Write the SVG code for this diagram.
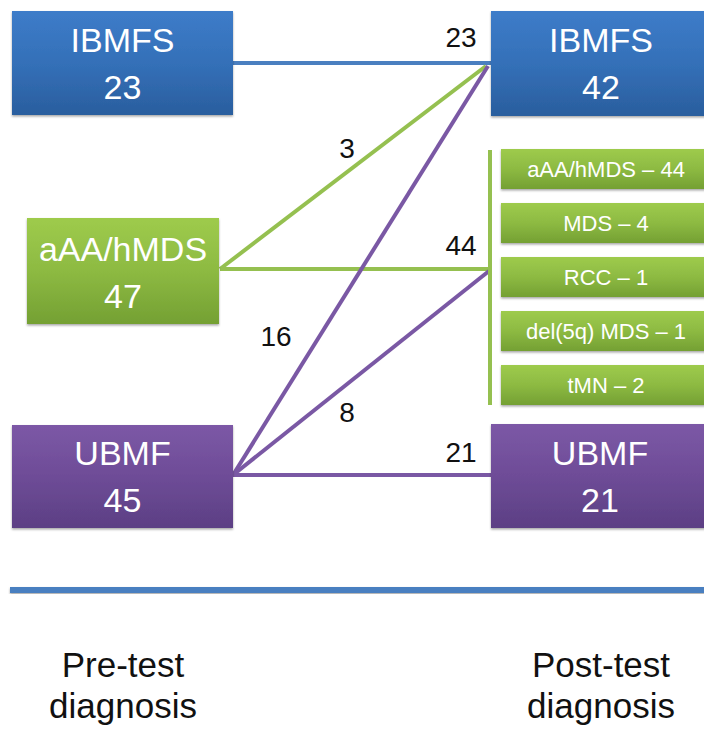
<svg xmlns="http://www.w3.org/2000/svg" width="704" height="730" viewBox="0 0 704 730">
<defs>
<linearGradient id="gBlue" x1="0" y1="0" x2="0" y2="1">
<stop offset="0" stop-color="#3d7cc9"/><stop offset="0.5" stop-color="#3470b8"/><stop offset="1" stop-color="#2a5e9e"/>
</linearGradient>
<linearGradient id="gGreen" x1="0" y1="0" x2="0" y2="1">
<stop offset="0" stop-color="#9ecb4c"/><stop offset="0.5" stop-color="#8dba42"/><stop offset="1" stop-color="#74a033"/>
</linearGradient>
<linearGradient id="gPurple" x1="0" y1="0" x2="0" y2="1">
<stop offset="0" stop-color="#7c58a6"/><stop offset="0.5" stop-color="#6e4c97"/><stop offset="1" stop-color="#5c3f84"/>
</linearGradient>
<filter id="sh" x="-5%" y="-5%" width="110%" height="115%">
<feDropShadow dx="0" dy="1.5" stdDeviation="1" flood-color="#000" flood-opacity="0.35"/>
</filter>
</defs>
<style>
.big{font-family:"Liberation Sans","Open Sans",sans-serif;font-size:34px;fill:#fff;text-anchor:middle}
.small{font-family:"Liberation Sans","Open Sans",sans-serif;font-size:22px;fill:#fff;text-anchor:middle}
.lbl{font-family:"Liberation Sans","Open Sans",sans-serif;font-size:28px;fill:#111;text-anchor:middle}
.foot{font-family:"Liberation Sans","Open Sans",sans-serif;font-size:35px;fill:#111;text-anchor:middle}
.blue{fill:url(#gBlue);filter:url(#sh)}
.green{fill:url(#gGreen);filter:url(#sh)}
.purple{fill:url(#gPurple);filter:url(#sh)}
.lb{stroke:#4a7fc0;stroke-width:4;fill:none}
.lg{stroke:#95c050;stroke-width:4;fill:none}
.lp{stroke:#7a58a4;stroke-width:4;fill:none}
</style>
<rect width="704" height="730" fill="#fff"/>
<g id="connectors">
<line class="lb" x1="233" y1="63" x2="491" y2="63"/>
<line class="lg" x1="220" y1="269" x2="486" y2="66"/>
<line class="lg" x1="220" y1="269" x2="490" y2="269"/>
<line class="lp" x1="233" y1="475" x2="488" y2="66"/>
<line class="lp" x1="233" y1="475" x2="489" y2="271"/>
<line class="lp" x1="233" y1="475" x2="491" y2="475"/>
<line class="lg" x1="490" y1="150" x2="490" y2="405"/>
<text class="lbl" x="461" y="47">23</text>
<text class="lbl" x="347" y="158">3</text>
<text class="lbl" x="461" y="255">44</text>
<text class="lbl" x="276" y="346">16</text>
<text class="lbl" x="347" y="422">8</text>
<text class="lbl" x="461" y="462">21</text>
</g>
<g id="pre-ibmfs">
<rect class="blue" x="12" y="11" width="221" height="104"/>
<text class="big" x="122.5" y="52">IBMFS</text>
<text class="big" x="122.5" y="99">23</text>
</g>
<g id="pre-aaa">
<rect class="green" x="27" y="218" width="192" height="106"/>
<text class="big" x="123" y="261">aAA/hMDS</text>
<text class="big" x="123" y="308">47</text>
</g>
<g id="pre-ubmf">
<rect class="purple" x="12" y="425" width="221" height="103"/>
<text class="big" x="122.5" y="465">UBMF</text>
<text class="big" x="122.5" y="512">45</text>
</g>
<g id="post-ibmfs">
<rect class="blue" x="491" y="11" width="220" height="105"/>
<text class="big" x="601" y="52">IBMFS</text>
<text class="big" x="601" y="99">42</text>
</g>
<g id="post-aaa">
<rect class="green" x="501" y="149" width="210" height="40"/>
<text class="small" x="606" y="177">aAA/hMDS – 44</text>
</g>
<g id="post-mds">
<rect class="green" x="501" y="203" width="210" height="40"/>
<text class="small" x="606" y="231">MDS – 4</text>
</g>
<g id="post-rcc">
<rect class="green" x="501" y="257" width="210" height="40"/>
<text class="small" x="606" y="285">RCC – 1</text>
</g>
<g id="post-del5q">
<rect class="green" x="501" y="311" width="210" height="40"/>
<text class="small" x="606" y="339">del(5q) MDS – 1</text>
</g>
<g id="post-tmn">
<rect class="green" x="501" y="365" width="210" height="40"/>
<text class="small" x="606" y="393">tMN – 2</text>
</g>
<g id="post-ubmf">
<rect class="purple" x="491" y="424" width="220" height="104"/>
<text class="big" x="600" y="465">UBMF</text>
<text class="big" x="600" y="512">21</text>
</g>
<g id="axis">
<rect x="10" y="587" width="700" height="6" fill="#4a7fc0" filter="url(#sh)"/>
</g>
<g id="footer">
<text class="foot" x="123" y="677">Pre-test</text>
<text class="foot" x="123" y="718">diagnosis</text>
<text class="foot" x="601" y="677">Post-test</text>
<text class="foot" x="601" y="718">diagnosis</text>
</g>
</svg>
